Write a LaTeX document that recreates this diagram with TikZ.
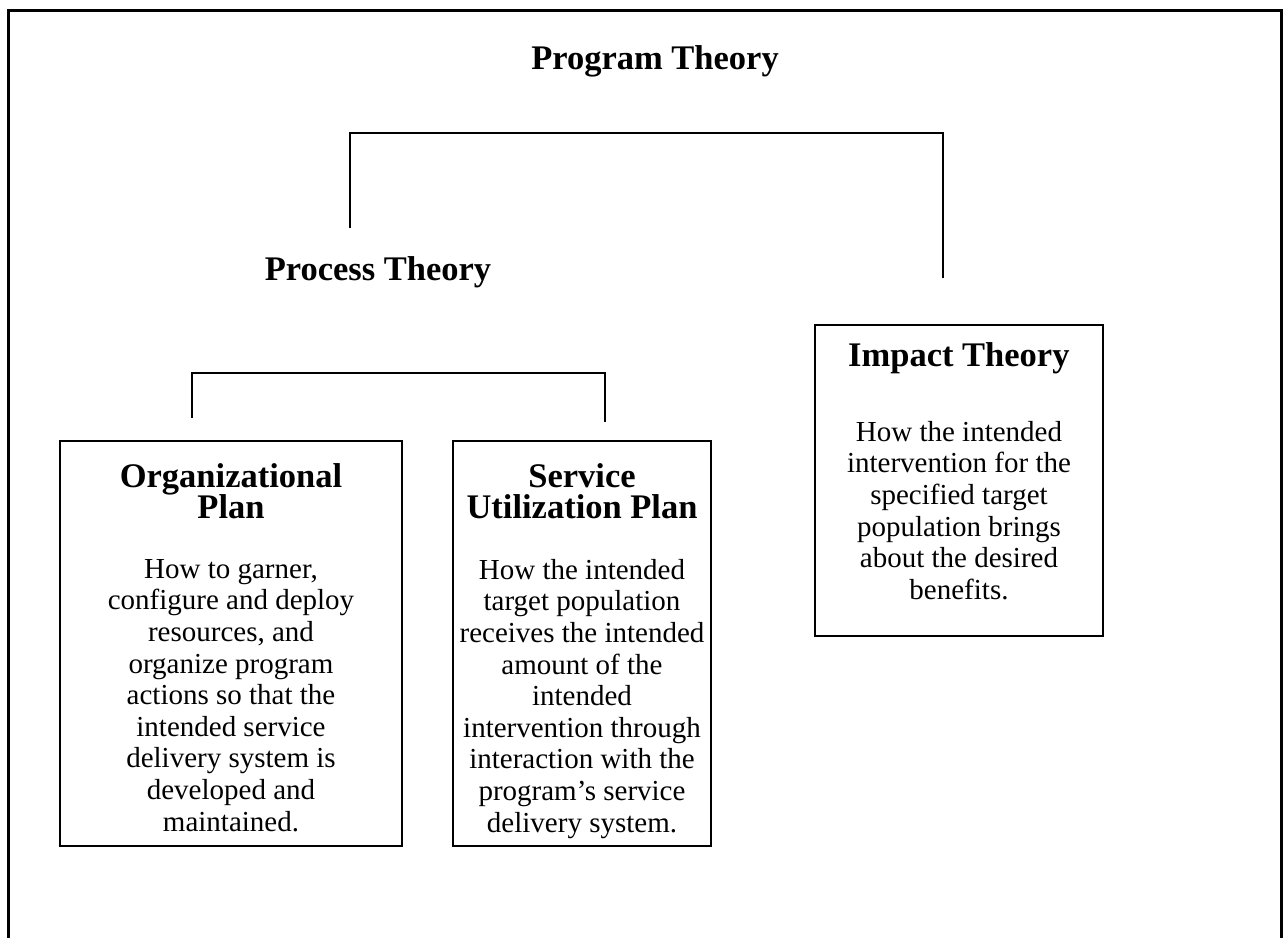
\documentclass[tikz,border=0pt]{standalone}
\usepackage{fontspec}
\setmainfont{Liberation Serif}
\begin{document}
\begin{tikzpicture}[x=1pt,y=-1pt,
  frame/.style={line width=3pt},
  plainbox/.style={draw, line width=1.8pt, inner sep=0pt},
  link/.style={line width=1.6pt},
  head/.style={font=\fontsize{34.5}{31.6}\selectfont\bfseries, align=center, inner sep=0pt},
  body/.style={font=\fontsize{29}{31.6}\selectfont, align=center, inner sep=0pt},
]
\useasboundingbox (0,0) rectangle (1284,937);
% outer frame, running off the bottom of the page
\draw[frame] (8,10) rectangle (1281,980);

% titles
\node[head] (prog) at (655,61) {Program Theory};
\node[head] (proc) at (378,272) {Process Theory};

% boxes
\node[plainbox, minimum width=342, minimum height=405] (org) at (231,643.5) {};
\node[plainbox, minimum width=258, minimum height=405] (svc) at (582,643.5) {};
\node[plainbox, minimum width=288, minimum height=311] (imp) at (959,480.5) {};

% box headings
\node[head, anchor=north] (org-head) at (231,463) {Organizational\\Plan};
\node[head, anchor=north] (svc-head) at (582,463) {Service\\Utilization Plan};
\node[head, anchor=west] (imp-head) at (848,358) {Impact Theory};

% box texts
\node[body, anchor=north] (org-text) at (231,559) {How to garner,\\configure and deploy\\resources, and\\organize program\\actions so that the\\intended service\\delivery system is\\developed and\\maintained.};
\node[body, anchor=north] (svc-text) at (582,559) {How the intended\\target population\\receives the intended\\amount of the\\intended\\intervention through\\interaction with the\\program's service\\delivery system.};
\node[body, anchor=north] (imp-text) at (959,421) {How the intended\\intervention for the\\specified target\\population brings\\about the desired\\benefits.};

% connector brackets
\coordinate (top-l) at (350,228);
\coordinate (top-r) at (943,278);
\coordinate (low-l) at (192,418);
\coordinate (low-r) at (605,422);
\draw[link] (top-l) |- (943,133) -- (top-r);
\draw[link] (low-l) |- (605,373) -- (low-r);
\end{tikzpicture}
\end{document}
